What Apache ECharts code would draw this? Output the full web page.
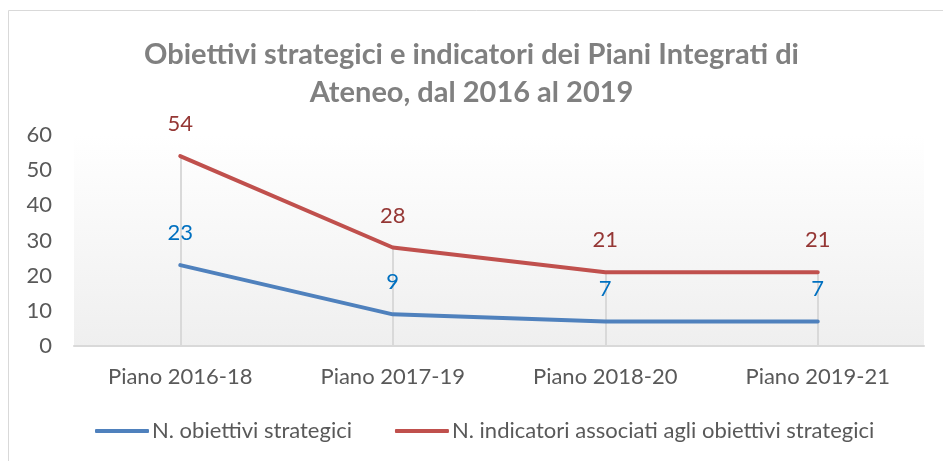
<!DOCTYPE html>
<html lang="it">
<head>
    <meta charset="utf-8">
    <title>Obiettivi strategici e indicatori</title>
    <script src="https://cdn.jsdelivr.net/npm/echarts@6/dist/echarts.min.js"></script>
    <style>
        html, body { margin: 0; padding: 0; background: #fff; }
        #main { width: 943px; height: 461px; }
    </style>
</head>
<body>
    <div id="main"></div>
<script>
    // dati del grafico
    var piani = ['Piano 2016-18', 'Piano 2017-19', 'Piano 2018-20', 'Piano 2019-21'];
    var obiettivi = [23, 9, 7, 7];
    var indicatori = [54, 28, 21, 21];
    var nomeObiettivi = 'N. obiettivi strategici';
    var nomeIndicatori = 'N. indicatori associati agli obiettivi strategici';

    var font = 'Lato, "Liberation Sans", sans-serif';

    // linee verticali dal punto più alto fino all'asse
    var dropLines = [];
    for (var i = 0; i < piani.length; i++) {
        dropLines.push([{ coord: [i, Math.max(indicatori[i], obiettivi[i])] }, { coord: [i, 0] }]);
    }

    var myChart = echarts.init(document.getElementById('main'));
    var option = {
        animation: false,
        textStyle: { fontFamily: font },
        title: {
            text: 'Obiettivi strategici e indicatori dei Piani Integrati di\nAteneo, dal 2016 al 2019',
            left: 'center',
            top: 31,
            textStyle: { fontSize: 29, fontWeight: 'bold', color: '#808080', lineHeight: 38, fontFamily: font }
        },
        graphic: [{
            type: 'rect',
            shape: { x: 8.5, y: 10.5, width: 1000, height: 1000 },
            style: { fill: 'none', stroke: '#d9d9d9', lineWidth: 1 },
            silent: true
        }],
        legend: {
            top: 415,
            left: 90,
            itemWidth: 54,
            itemHeight: 4,
            itemGap: 43,
            icon: 'roundRect',
            textStyle: { fontSize: 22, color: '#595959', fontFamily: font, padding: [0, 0, 0, -2] },
            data: [nomeObiettivi, nomeIndicatori]
        },
        grid: {
            left: 74, right: 19, top: 135, bottom: 115,
            show: true,
            borderWidth: 0,
            backgroundColor: {
                type: 'linear', x: 0, y: 0, x2: 0, y2: 1,
                colorStops: [{ offset: 0, color: '#ffffff' }, { offset: 1, color: '#efefef' }]
            }
        },
        xAxis: {
            type: 'category',
            data: piani,
            boundaryGap: true,
            axisLine: { lineStyle: { color: '#d9d9d9', width: 2 } },
            axisTick: { show: false },
            axisLabel: { fontSize: 22, color: '#595959', margin: 20, fontFamily: font },
            splitLine: { show: false }
        },
        yAxis: {
            type: 'value',
            min: 0, max: 60, interval: 10,
            axisLine: { show: false },
            axisTick: { show: false },
            splitLine: { show: false },
            axisLabel: { fontSize: 22, color: '#595959', margin: 22, fontFamily: font }
        },
        series: [{
            name: nomeObiettivi,
            type: 'line',
            data: obiettivi,
            symbol: 'circle',
            symbolSize: 0,
            showSymbol: true,
            lineStyle: { color: '#4f81bd', width: 4, cap: 'round' },
            itemStyle: { color: '#4f81bd' },
            label: { show: true, position: 'top', distance: 21, fontSize: 22, color: '#0070c0', fontFamily: font },
            z: 3
        }, {
            name: nomeIndicatori,
            type: 'line',
            data: indicatori,
            symbol: 'circle',
            symbolSize: 0,
            showSymbol: true,
            lineStyle: { color: '#c0504d', width: 4, cap: 'round' },
            itemStyle: { color: '#c0504d' },
            label: { show: true, position: 'top', distance: 21, fontSize: 22, color: '#953735', fontFamily: font },
            markLine: {
                silent: true,
                symbol: 'none',
                label: { show: false },
                lineStyle: { color: '#d9d9d9', width: 2, type: 'solid' },
                data: dropLines,
                z: 1
            },
            z: 3
        }]
    };
    myChart.setOption(option);
</script>
</body>
</html>
